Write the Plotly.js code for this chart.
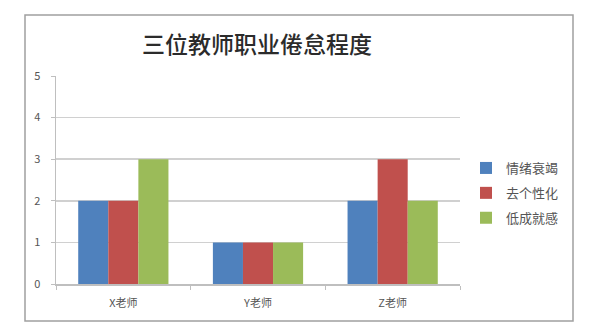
<!DOCTYPE html>
<html>
<head>
<meta charset="utf-8">
<script src="https://cdn.plot.ly/plotly-3.0.1.min.js"></script>
<style>
  html, body { margin: 0; padding: 0; background: #ffffff; }
  #chart { width: 607px; height: 328px; }
</style>
</head>
<body>
<div id="chart"></div>
<script>
// Teachers compared
const teachers = ['X老师', 'Y老师', 'Z老师'];

// Burnout dimensions (legend entries)
const seriesNames = ['情绪衰竭', '去个性化', '低成就感'];

// Scores per dimension, one value per teacher
const emotionalExhaustion = [2, 1, 2];
const depersonalization = [2, 1, 3];
const lowAccomplishment = [3, 1, 2];

const yTicks = [0, 1, 2, 3, 4, 5];

const colors = ['#4F81BD', '#C0504D', '#9BBB59'];
const values = [emotionalExhaustion, depersonalization, lowAccomplishment];

const font = '"Noto Sans CJK SC", "Noto Sans", sans-serif';

const traces = seriesNames.map((name, i) => ({
  type: 'bar',
  name: name,
  x: teachers,
  y: values[i],
  legendgroup: 'g' + i,
  marker: { color: colors[i], line: { width: 0 } }
}));

// Plot area geometry in pixels
const W = 607, H = 328;
const L = 56, R = 460, T = 76, B = 284;
const pw = R - L, ph = B - T;
const px = v => (v - L) / pw;
const py = v => (B - v) / ph;

const layout = {
  width: W,
  height: H,
  margin: { l: L, r: W - R, t: T, b: H - B, pad: 0 },
  paper_bgcolor: '#ffffff',
  plot_bgcolor: '#ffffff',
  font: { family: font, size: 11, color: '#444444' },
  title: {
    text: '三位教师职业倦怠程度',
    font: { family: font, size: 23, color: '#2b2b2b', weight: 500 },
    x: px(257), xref: 'paper', xanchor: 'center',
    y: 1 - 45 / H, yref: 'container', yanchor: 'middle'
  },
  barmode: 'group',
  bargap: 0.33,
  bargroupgap: 0,
  showlegend: true,
  legend: {
    x: px(466), y: py(153), xanchor: 'left', yanchor: 'top',
    font: { family: font, size: 13, color: '#555555' },
    tracegroupgap: 5,
    itemwidth: 30,
    bgcolor: 'rgba(0,0,0,0)'
  },
  xaxis: {
    type: 'category',
    showgrid: false,
    showline: true,
    linecolor: '#bfbfbf',
    linewidth: 1.5,
    ticks: 'outside',
    tickson: 'boundaries',
    ticklen: 4,
    tickcolor: '#bfbfbf',
    tickfont: { family: font, size: 11, color: '#555555' },
    ticklabelstandoff: 8,
    zeroline: false,
    fixedrange: true
  },
  yaxis: {
    range: [0, 5],
    tickvals: yTicks,
    ticktext: yTicks.map(String),
    showgrid: true,
    gridcolor: '#d0d0d0',
    gridwidth: 1.5,
    showline: true,
    linecolor: '#bfbfbf',
    linewidth: 1.5,
    ticks: 'outside',
    ticklen: 4,
    tickcolor: '#bfbfbf',
    tickfont: { family: font, size: 11, color: '#555555' },
    ticklabelstandoff: 8,
    zeroline: false,
    fixedrange: true
  },
  shapes: [{
    type: 'rect',
    xref: 'paper', yref: 'paper',
    x0: px(25), x1: px(573),
    y0: py(321), y1: py(15),
    line: { color: '#a0a0a0', width: 1.5 },
    fillcolor: 'rgba(0,0,0,0)',
    layer: 'below'
  }]
};

Plotly.newPlot('chart', traces, layout, { displayModeBar: false, staticPlot: true });
</script>
</body>
</html>
